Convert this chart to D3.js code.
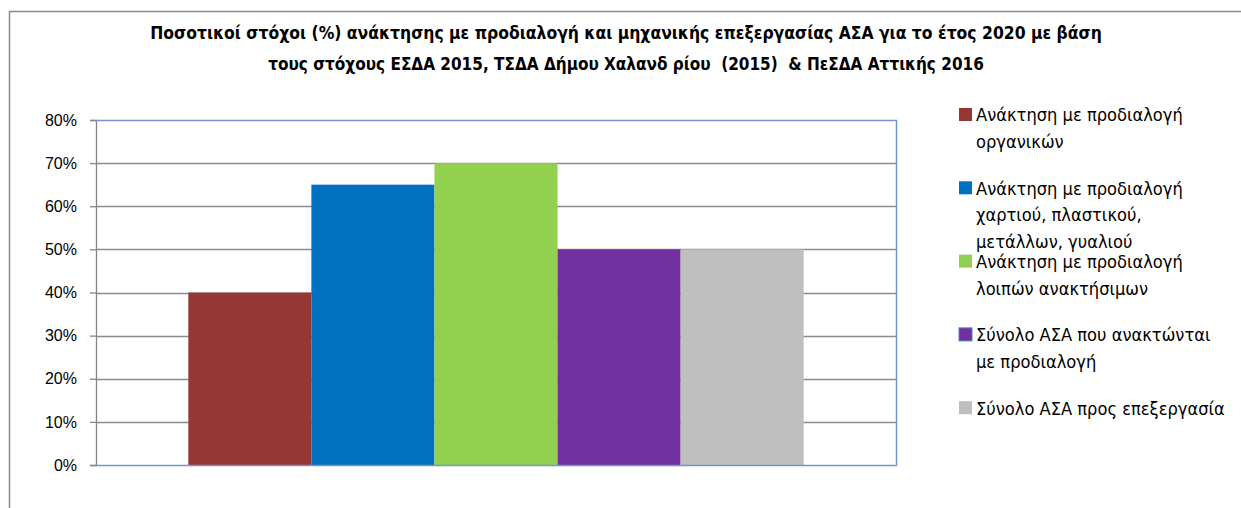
<!DOCTYPE html>
<html>
<head>
<meta charset="utf-8">
<script src="https://cdn.jsdelivr.net/npm/d3@7"></script>
<style>
  body { margin: 0; background: #fff; }
  text { font-family: "Liberation Sans", Arial, sans-serif; fill: #000; }
  .narrow { font-family: "Liberation Sans Narrow", "DejaVu Sans Condensed", "Liberation Sans", sans-serif; white-space: pre; }
</style>
</head>
<body>
<div id="chart"></div>
<script>
var svgWidth = 1241;
var svgHeight = 508;

// data
var titleLines = [
  "Ποσοτικοί στόχοι (%) ανάκτησης με προδιαλογή και μηχανικής επεξεργασίας ΑΣΑ για το έτος 2020 με βάση",
  "τους στόχους ΕΣΔΑ 2015, ΤΣΔΑ Δήμου Χαλανδ ρίου  (2015)  & ΠεΣΔΑ Αττικής 2016"
];
var seriesNames = [
  "Ανάκτηση με προδιαλογή οργανικών",
  "Ανάκτηση με προδιαλογή χαρτιού, πλαστικού, μετάλλων, γυαλιού",
  "Ανάκτηση με προδιαλογή λοιπών ανακτήσιμων",
  "Σύνολο ΑΣΑ που ανακτώνται με προδιαλογή",
  "Σύνολο ΑΣΑ προς επεξεργασία"
];
var legendLines = [
  ["Ανάκτηση με προδιαλογή", "οργανικών"],
  ["Ανάκτηση με προδιαλογή", "χαρτιού, πλαστικού,", "μετάλλων, γυαλιού"],
  ["Ανάκτηση με προδιαλογή", "λοιπών ανακτήσιμων"],
  ["Σύνολο ΑΣΑ που ανακτώνται", "με προδιαλογή"],
  ["Σύνολο ΑΣΑ προς επεξεργασία"]
];
var values = [0.40, 0.65, 0.70, 0.50, 0.50];
var yTicks = [0, 0.1, 0.2, 0.3, 0.4, 0.5, 0.6, 0.7, 0.8];
var colors = ["#953735", "#0070c0", "#92d050", "#7030a0", "#bfbfbf"];

var plot = { left: 96, right: 896, top: 120, bottom: 465 };

var svg = d3.select("#chart")
  .append("svg")
  .attr("width", svgWidth)
  .attr("height", svgHeight);

// outer chart border (only top and left visible)
svg.append("path")
  .attr("d", "M9.5,508 L9.5,11.5 L1241,11.5")
  .attr("fill", "none")
  .attr("stroke", "#8a8a8a")
  .attr("stroke-width", 1.5);

// shrink/grow a text so it spans a given width
function fitWidth(sel, target) {
  var w = sel.node().getComputedTextLength();
  var fs = parseFloat(sel.attr("font-size"));
  sel.attr("font-size", (fs * target / w).toFixed(2));
}

// title
titleLines.forEach(function(line, i) {
  var t = svg.append("text")
    .attr("class", "narrow")
    .attr("x", 626)
    .attr("y", [39, 70][i])
    .attr("text-anchor", "middle")
    .attr("font-weight", "bold")
    .attr("font-size", 16)
    .text(line);
  fitWidth(t, i === 0 ? 952 : 716);
});

var xScale = d3.scaleBand()
  .domain(seriesNames)
  .range([plot.left, plot.right])
  .paddingInner(0)
  .paddingOuter(0.75);

var yScale = d3.scaleLinear()
  .domain([0, 0.8])
  .range([plot.bottom, plot.top]);

// gridlines
svg.append("g")
  .selectAll("line")
  .data(yTicks.slice(1, -1))
  .enter()
  .append("line")
  .attr("x1", plot.left)
  .attr("x2", plot.right)
  .attr("y1", d => Math.round(yScale(d)) + 0.5)
  .attr("y2", d => Math.round(yScale(d)) + 0.5)
  .attr("stroke", "#8c8c8c")
  .attr("stroke-width", 1.3);

// y axis
var leftAxis = d3.axisLeft(yScale)
  .tickValues(yTicks)
  .tickFormat(d3.format(".0%"))
  .tickSize(6)
  .tickPadding(13);

var yAxis = svg.append("g")
  .attr("transform", `translate(${plot.left}, 0)`)
  .call(leftAxis);

yAxis.select(".domain").attr("stroke", "#868686").attr("stroke-width", 1.3);
yAxis.selectAll(".tick line").attr("stroke", "#868686").attr("stroke-width", 1.3);
yAxis.selectAll(".tick text")
  .attr("font-size", 16)
  .attr("font-family", "'Liberation Sans', Arial, sans-serif")
  .attr("fill", "#000");

// bars
svg.append("g")
  .selectAll("rect")
  .data(values)
  .enter()
  .append("rect")
  .attr("x", (d, i) => xScale(seriesNames[i]))
  .attr("y", d => yScale(d))
  .attr("width", xScale.bandwidth())
  .attr("height", d => plot.bottom - yScale(d))
  .attr("fill", (d, i) => colors[i]);

// plot area border: top, right, bottom in light blue
svg.append("path")
  .attr("d", `M${plot.left},${plot.top + 0.5} L${plot.right + 0.5},${plot.top + 0.5} L${plot.right + 0.5},${plot.bottom + 0.5} L${plot.left},${plot.bottom + 0.5}`)
  .attr("fill", "none")
  .attr("stroke", "#7295cf")
  .attr("stroke-width", 1.5);

// legend
var legend = svg.append("g");
legendLines.forEach(function(lines, i) {
  var y0 = 115 + i * 73.3;
  legend.append("rect")
    .attr("x", 959)
    .attr("y", y0 - 7)
    .attr("width", 13)
    .attr("height", 13)
    .attr("fill", colors[i])
    .attr("stroke", i === 3 ? "#4f81bd" : "none")
    .attr("stroke-width", 1);
  lines.forEach(function(line, j) {
    legend.append("text")
      .attr("class", "legtext narrow")
      .attr("x", 976)
      .attr("y", y0 + j * 26.8)
      .attr("dy", "0.35em")
      .attr("font-size", 16)
      .text(line);
  });
});

// size legend text so the first line matches the picture
var firstLeg = legend.select(".legtext");
fitWidth(firstLeg, 207);
legend.selectAll(".legtext").attr("font-size", firstLeg.attr("font-size"));
</script>
</body>
</html>
